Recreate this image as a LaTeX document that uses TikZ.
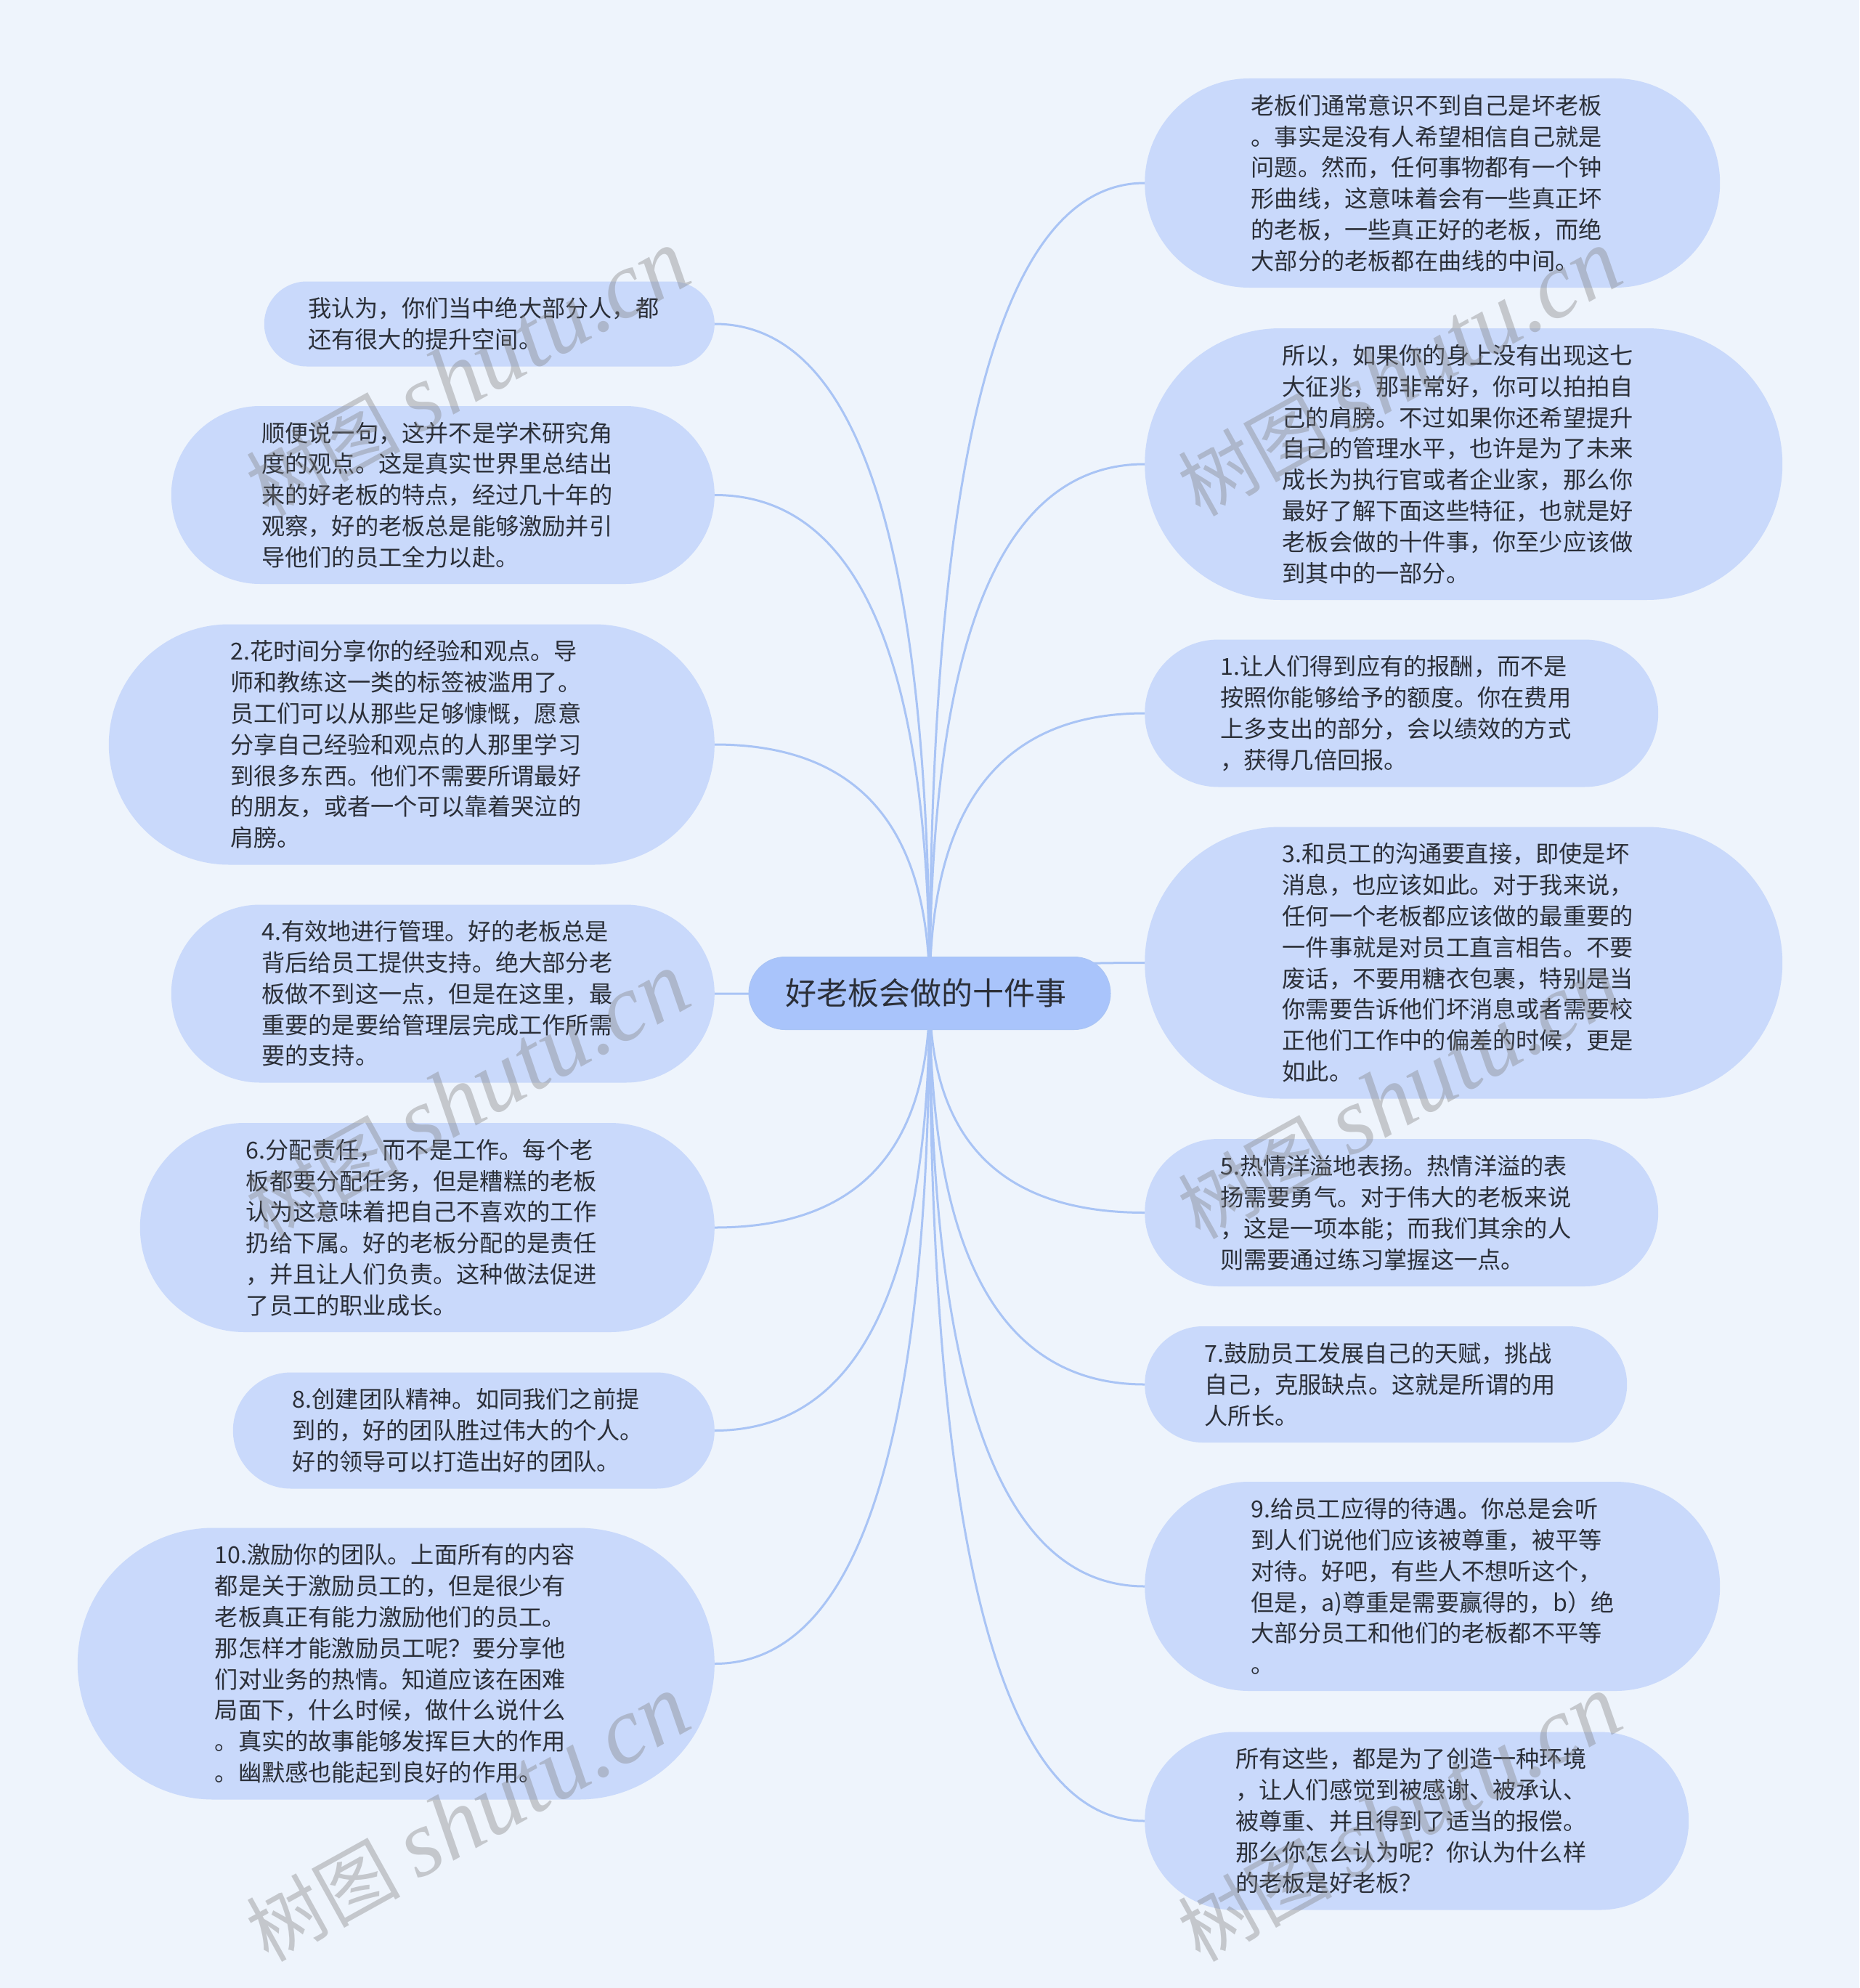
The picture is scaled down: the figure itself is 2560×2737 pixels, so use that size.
\documentclass[tikz,border=0pt]{standalone}
\usepackage{fontspec}
\setmainfont{Noto Sans CJK SC}
\newfontfamily\wmfont{Liberation Serif}
\usetikzlibrary{calc,backgrounds,shapes.misc}
\definecolor{pagebg}{HTML}{EEF4FC}
\definecolor{pillfill}{HTML}{C9D9FB}
\definecolor{rootfill}{HTML}{A9C4FB}
\definecolor{linkcol}{HTML}{A9C4F5}
\definecolor{inktext}{HTML}{2B2F38}
\tikzset{
  pill/.style={rounded rectangle,fill=pillfill,text=inktext,inner sep=0pt,text width=499pt,align=left,
    font=\fontsize{32.2}{42.8}\selectfont},
  rootpill/.style={rounded rectangle,fill=rootfill,draw=linkcol,line width=1pt,text=inktext,inner sep=0pt,
    minimum height=100pt,minimum width=498pt,text width=398pt,align=left,font=\fontsize{43}{50}\selectfont},
  link/.style={draw=linkcol,line width=3pt},
  wmark/.style={rotate=29,text=gray,text opacity=0.38,inner sep=0pt,font=\fontsize{106}{110}\selectfont}
}
\begin{document}
\begin{tikzpicture}[x=1pt,y=-1pt]
\begin{pgfonlayer}{background}
\path[use as bounding box,fill=pagebg] (0,0) rectangle (2560,2737);
\end{pgfonlayer}
\node[rootpill] (root) at (1280,1367.5) {好老板会做的十件事};
\foreach \nm/\y/\h/\txt in {
  la/446/117/{我认为，你们当中绝大部分人，都\\还有很大的提升空间。},
  lb/681.5/245/{顺便说一句，这并不是学术研究角\\度的观点。这是真实世界里总结出\\来的好老板的特点，经过几十年的\\观察，好的老板总是能够激励并引\\导他们的员工全力以赴。},
  lc/1025/331/{2.花时间分享你的经验和观点。导\\师和教练这一类的标签被滥用了。\\员工们可以从那些足够慷慨，愿意\\分享自己经验和观点的人那里学习\\到很多东西。他们不需要所谓最好\\的朋友，或者一个可以靠着哭泣的\\肩膀。},
  ld/1368/245/{4.有效地进行管理。好的老板总是\\背后给员工提供支持。绝大部分老\\板做不到这一点，但是在这里，最\\重要的是要给管理层完成工作所需\\要的支持。},
  le/1690/288/{6.分配责任，而不是工作。每个老\\板都要分配任务，但是糟糕的老板\\认为这意味着把自己不喜欢的工作\\扔给下属。好的老板分配的是责任\\，并且让人们负责。这种做法促进\\了员工的职业成长。},
  lf/1969.5/160/{8.创建团队精神。如同我们之前提\\到的，好的团队胜过伟大的个人。\\好的领导可以打造出好的团队。},
  lg/2290.5/374/{10.激励你的团队。上面所有的内容\\都是关于激励员工的，但是很少有\\老板真正有能力激励他们的员工。\\那怎样才能激励员工呢？要分享他\\们对业务的热情。知道应该在困难\\局面下，什么时候，做什么说什么\\。真实的故事能够发挥巨大的作用\\。幽默感也能起到良好的作用。}}
  \node[pill,anchor=east,minimum height=\h pt,minimum width={(\h+503)*1pt}] (\nm) at (984,\y) {\txt};
\foreach \nm/\y/\h/\txt in {
  ra/252/288/{老板们通常意识不到自己是坏老板\\。事实是没有人希望相信自己就是\\问题。然而，任何事物都有一个钟\\形曲线，这意味着会有一些真正坏\\的老板，一些真正好的老板，而绝\\大部分的老板都在曲线的中间。},
  rb/639/374/{所以，如果你的身上没有出现这七\\大征兆，那非常好，你可以拍拍自\\己的肩膀。不过如果你还希望提升\\自己的管理水平，也许是为了未来\\成长为执行官或者企业家，那么你\\最好了解下面这些特征，也就是好\\老板会做的十件事，你至少应该做\\到其中的一部分。},
  rc/982/203/{1.让人们得到应有的报酬，而不是\\按照你能够给予的额度。你在费用\\上多支出的部分，会以绩效的方式\\，获得几倍回报。},
  rd/1325.5/374/{3.和员工的沟通要直接，即使是坏\\消息，也应该如此。对于我来说，\\任何一个老板都应该做的最重要的\\一件事就是对员工直言相告。不要\\废话，不要用糖衣包裹，特别是当\\你需要告诉他们坏消息或者需要校\\正他们工作中的偏差的时候，更是\\如此。},
  re/1669.5/203/{5.热情洋溢地表扬。热情洋溢的表\\扬需要勇气。对于伟大的老板来说\\，这是一项本能；而我们其余的人\\则需要通过练习掌握这一点。},
  rf/1906/160/{7.鼓励员工发展自己的天赋，挑战\\自己，克服缺点。这就是所谓的用\\人所长。},
  rg/2184/288/{9.给员工应得的待遇。你总是会听\\到人们说他们应该被尊重，被平等\\对待。好吧，有些人不想听这个，\\但是，a)尊重是需要赢得的，b）绝\\大部分员工和他们的老板都不平等\\。},
  rh/2507/245/{所有这些，都是为了创造一种环境\\，让人们感觉到被感谢、被承认、\\被尊重、并且得到了适当的报偿。\\那么你怎么认为呢？你认为什么样\\的老板是好老板？}}
  \node[pill,anchor=west,minimum height=\h pt,minimum width={(\h+504)*1pt}] (\nm) at (1576,\y) {\txt};
\begin{pgfonlayer}{background}
\foreach \nm in {la,lb,lc,ld,le,lf,lg}
  \draw[link] (root.center) .. controls ($(root.center)!0.55!(root.center |- \nm.east)$) and ($(\nm.east)!0.78!(root.center |- \nm.east)$) .. (\nm.east);
\foreach \nm in {ra,rb,rc,rd,re,rf,rg,rh}
  \draw[link] (root.center) .. controls ($(root.center)!0.55!(root.center |- \nm.west)$) and ($(\nm.west)!0.78!(root.center |- \nm.west)$) .. (\nm.west);
\end{pgfonlayer}
\foreach \i/\x/\y in {1/644/514,2/644/1509,3/644/2504,4/1927/514,5/1927/1509,6/1927/2504}
  \node[wmark] (wm\i) at (\x,\y) {树图 {\wmfont\itshape\fontsize{130}{130}\selectfont shutu.cn}};
\end{tikzpicture}
\end{document}
